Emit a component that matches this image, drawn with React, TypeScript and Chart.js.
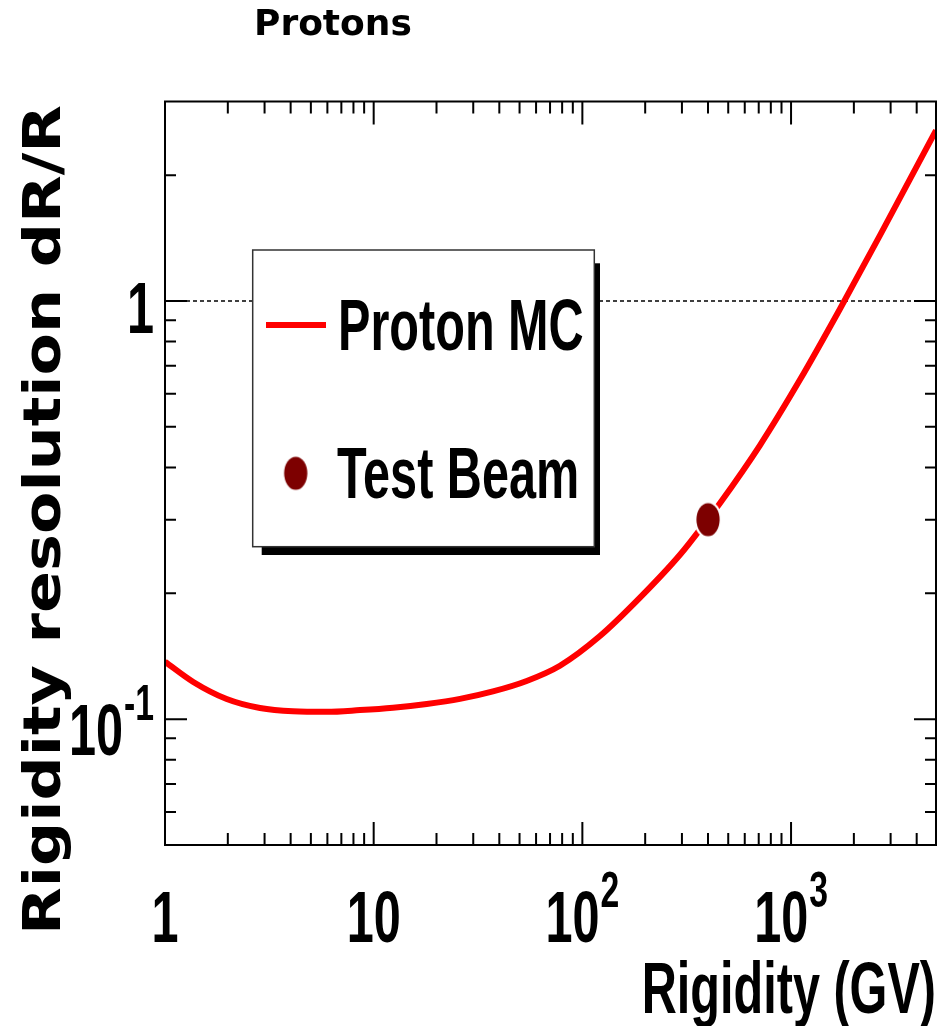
import React, { useEffect, useRef } from 'react';
import { Chart, registerables } from 'chart.js';

Chart.register(...registerables);

// ---- data ----
const rigidityMC = [1, 1.366, 1.975, 2.852, 4.105, 5.955, 8.60, 12.38, 17.95, 25.92, 37.29, 54.09, 78.1, 121.4, 188.8, 293.6, 396.8, 456.3, 709.6, 1103, 1715, 2667, 4950];
const resolutionMC = [0.1372, 0.1227, 0.1117, 0.1063, 0.1044, 0.1041, 0.1051, 0.1065, 0.1087, 0.1118, 0.1165, 0.1234, 0.1342, 0.1580, 0.1952, 0.2472, 0.2994, 0.3284, 0.4518, 0.6478, 0.957, 1.435, 2.56];
const rigidityTB = [400];
const resolutionTB = [0.3];

const xMin = 1;
const xMax = 4950;
const yMin = 0.05;
const yMax = 3;

const xMajorTicks = [1, 10, 100, 1000];
const xTickBase = ['1', '10', '10', '10'];
const xTickSup = ['', '', '2', '3'];
const xMinorTicks = [2, 3, 4, 5, 6, 7, 8, 9, 20, 30, 40, 50, 60, 70, 80, 90, 200, 300, 400, 500, 600, 700, 800, 900, 2000, 3000, 4000];

const yMajorTicks = [0.1, 1];
const yTickBase = ['10', '1'];
const yTickSup = ['-1', ''];
const yMinorTicks = [0.06, 0.07, 0.08, 0.09, 0.2, 0.3, 0.4, 0.5, 0.6, 0.7, 0.8, 0.9, 2];

const titleText = 'Protons';
const xTitle = 'Rigidity (GV)';
const yTitle = 'Rigidity resolution dR/R';
const legendLabels = ['Proton MC', 'Test Beam'];

const lineColor = '#ff0000';
const markerColor = '#7d0000';

const NARROW = 0.675;
const narrowFont = (size: number) => `bold ${size}px "Liberation Sans", Arial, Helvetica, sans-serif`;

function makeMarker(border: boolean): HTMLCanvasElement {
  const c = document.createElement('canvas');
  c.width = 28;
  c.height = 38;
  const g = c.getContext('2d')!;
  if (border) {
    g.fillStyle = '#ffffff';
    g.beginPath();
    g.ellipse(14, 19, 13.8, 18.8, 0, 0, Math.PI * 2);
    g.fill();
  }
  g.fillStyle = markerColor;
  g.beginPath();
  g.ellipse(14, 19, 11.6, 16.6, 0, 0, Math.PI * 2);
  g.fill();
  return c;
}

function narrowWidth(ctx: CanvasRenderingContext2D, text: string, size: number) {
  ctx.save();
  ctx.font = narrowFont(size);
  const w = ctx.measureText(text).width * NARROW;
  ctx.restore();
  return w;
}

function drawNarrow(ctx: CanvasRenderingContext2D, text: string, x: number, y: number, size: number, align: CanvasTextAlign) {
  ctx.save();
  ctx.translate(x, y);
  ctx.scale(NARROW, 1);
  ctx.font = narrowFont(size);
  ctx.textAlign = align;
  ctx.textBaseline = 'alphabetic';
  ctx.fillStyle = '#000';
  ctx.fillText(text, 0, 0);
  ctx.restore();
}

// label with optional superscript; anchor: 'center' or 'right'
function drawPowLabel(ctx: CanvasRenderingContext2D, base: string, sup: string, ax: number, baseY: number, supY: number, anchor: 'center' | 'right') {
  const wb = narrowWidth(ctx, base, 72);
  const ws = sup ? narrowWidth(ctx, sup, 50) + 1 : 0;
  const total = wb + ws;
  const start = anchor === 'center' ? ax - total / 2 : ax - total;
  drawNarrow(ctx, base, start, baseY, 72, 'left');
  if (sup) drawNarrow(ctx, sup, start + wb + 1, supY, 50, 'left');
}

export default function App() {
  const ref = useRef<HTMLCanvasElement | null>(null);

  useEffect(() => {
    const canvas = ref.current;
    if (!canvas) return;
    const marker = makeMarker(true);
    const legendMarker = makeMarker(false);

    const rootStyle = {
      id: 'rootStyle',
      beforeDatasetsDraw(chart: any) {
        const { ctx, chartArea } = chart;
        const ys = chart.scales.y;
        const py = Math.round(ys.getPixelForValue(1));
        ctx.save();
        ctx.strokeStyle = '#000';
        ctx.lineWidth = 1.3;
        ctx.setLineDash([4, 3]);
        ctx.beginPath();
        ctx.moveTo(chartArea.left, py);
        ctx.lineTo(chartArea.right, py);
        ctx.stroke();
        ctx.restore();
      },
      afterDatasetsDraw(chart: any) {
        const { ctx, chartArea } = chart;
        const { left, right, top, bottom } = chartArea;
        const xs = chart.scales.x;
        const ys = chart.scales.y;
        ctx.save();
        ctx.strokeStyle = '#000';
        ctx.lineWidth = 2;
        ctx.setLineDash([]);
        // frame
        ctx.strokeRect(left, top, right - left, bottom - top);
        // ticks
        ctx.beginPath();
        const xt = (v: number, len: number) => {
          const px = xs.getPixelForValue(v);
          ctx.moveTo(px, bottom);
          ctx.lineTo(px, bottom - len);
          ctx.moveTo(px, top);
          ctx.lineTo(px, top + len);
        };
        const yt = (v: number, len: number) => {
          const py = ys.getPixelForValue(v);
          ctx.moveTo(left, py);
          ctx.lineTo(left + len, py);
          ctx.moveTo(right, py);
          ctx.lineTo(right - len, py);
        };
        xMajorTicks.forEach((v) => xt(v, 23));
        xMinorTicks.forEach((v) => xt(v, 12));
        yMajorTicks.forEach((v) => yt(v, 22));
        yMinorTicks.forEach((v) => yt(v, 11));
        ctx.stroke();

        // x tick labels
        xMajorTicks.forEach((v, i) => {
          const px = xs.getPixelForValue(v);
          drawPowLabel(ctx, xTickBase[i], xTickSup[i], px, 942, 907, 'center');
        });
        // y tick labels
        yMajorTicks.forEach((v, i) => {
          const py = ys.getPixelForValue(v);
          const off = yTickSup[i] ? 36 : 32;
          drawPowLabel(ctx, yTickBase[i], yTickSup[i], 154, py + off, py + 1, 'right');
        });

        // axis titles
        drawNarrow(ctx, xTitle, right, 1013, 72, 'right');

        ctx.save();
        ctx.font = 'bold 52px "DejaVu Sans", sans-serif';
        const tw = ctx.measureText(yTitle).width;
        const sx = 830 / tw;
        ctx.translate(60, 105);
        ctx.rotate(-Math.PI / 2);
        ctx.scale(sx, 1);
        ctx.textAlign = 'right';
        ctx.textBaseline = 'alphabetic';
        ctx.fillStyle = '#000';
        ctx.fillText(yTitle, 0, 0);
        ctx.restore();

        // title
        ctx.font = 'bold 36px "DejaVu Sans", sans-serif';
        ctx.textAlign = 'left';
        ctx.textBaseline = 'alphabetic';
        ctx.fillStyle = '#000';
        ctx.fillText(titleText, 254, 35);

        // legend
        ctx.fillStyle = '#000';
        ctx.fillRect(261.7, 263.3, 600 - 261.7, 555 - 263.3);
        ctx.fillStyle = '#fff';
        ctx.fillRect(252.7, 250, 594.3 - 252.7, 546.7 - 250);
        ctx.strokeStyle = '#333';
        ctx.lineWidth = 1.5;
        ctx.strokeRect(252.7, 250, 594.3 - 252.7, 546.7 - 250);

        ctx.strokeStyle = lineColor;
        ctx.lineWidth = 6;
        ctx.beginPath();
        ctx.moveTo(266, 325);
        ctx.lineTo(326, 325);
        ctx.stroke();
        ctx.drawImage(legendMarker, 295.7 - 14, 473.3 - 19);

        drawNarrow(ctx, legendLabels[0], 338, 350, 72, 'left');
        drawNarrow(ctx, legendLabels[1], 337, 498, 72, 'left');
        ctx.restore();
      },
    };

    const chart = new Chart(canvas, {
      type: 'line',
      data: {
        datasets: [
          {
            label: legendLabels[0],
            data: rigidityMC.map((x, i) => ({ x, y: resolutionMC[i] })),
            borderColor: lineColor,
            backgroundColor: lineColor,
            borderWidth: 6,
            pointRadius: 0,
            cubicInterpolationMode: 'monotone',
            fill: false,
            order: 2,
          },
          {
            label: legendLabels[1],
            data: rigidityTB.map((x, i) => ({ x, y: resolutionTB[i] })),
            showLine: false,
            pointStyle: marker,
            pointRadius: 14,
            borderWidth: 0,
            order: 1,
          },
        ],
      } as any,
      options: {
        responsive: false,
        animation: false,
        devicePixelRatio: 1,
        events: [],
        layout: { padding: { left: 165, top: 101.5, right: 16, bottom: 181 } },
        scales: {
          x: { type: 'logarithmic', min: xMin, max: xMax, display: false },
          y: { type: 'logarithmic', min: yMin, max: yMax, display: false },
        },
        plugins: {
          legend: { display: false },
          tooltip: { enabled: false },
          title: { display: false },
        },
      } as any,
      plugins: [rootStyle as any],
    });
    return () => chart.destroy();
  }, []);

  return (
    <div style={{ position: 'fixed', left: 0, top: 0, width: 952, height: 1026 }}>
      <canvas ref={ref} width={952} height={1026} style={{ display: 'block' }} />
    </div>
  );
}
